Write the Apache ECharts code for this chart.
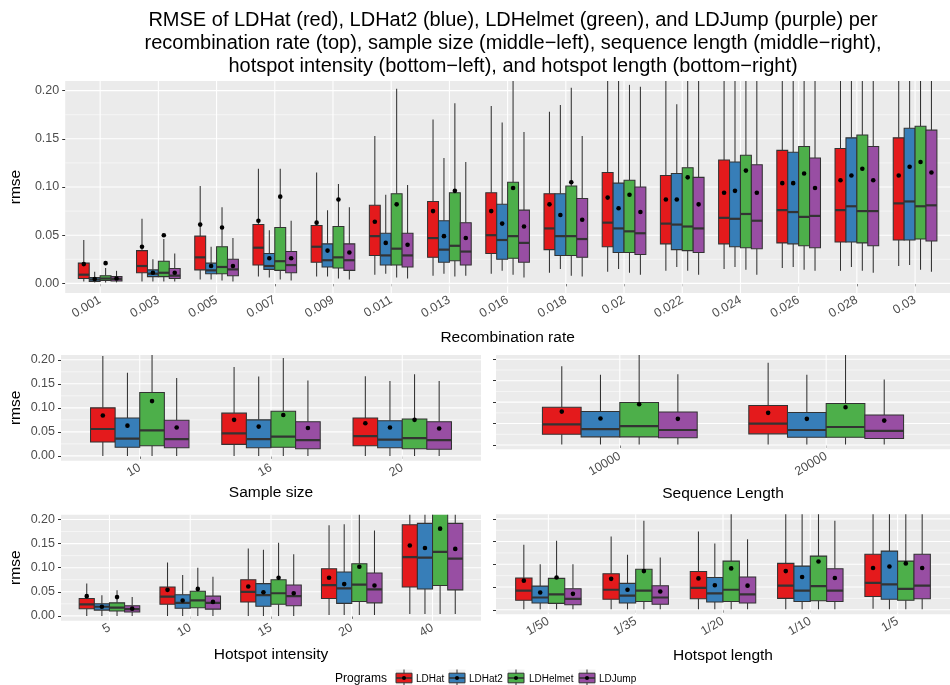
<!DOCTYPE html>
<html>
<head>
<meta charset="utf-8">
<script src="https://cdn.jsdelivr.net/npm/echarts@6/dist/echarts.min.js"></script>
<style>
  html, body { margin: 0; padding: 0; background: #ffffff; }
  #chart { width: 950px; height: 685px; }
</style>
</head>
<body>
<div id="chart"></div>
<script>
// Programs compared and their Set1 colours
const programs = ['LDHat', 'LDHat2', 'LDHelmet', 'LDJump'];
const programColors = ['#E41A1C', '#377EB8', '#4DAF4A', '#984EA3'];

// Category labels of each panel
const recombRates = ['0.001', '0.003', '0.005', '0.007', '0.009', '0.011', '0.013', '0.016',
  '0.018', '0.02', '0.022', '0.024', '0.026', '0.028', '0.03'];
const sampleSizes = ['10', '16', '20'];
const sequenceLengths = ['10000', '20000'];
const hotspotIntensities = ['5', '10', '15', '20', '40'];
const hotspotLengths = ['1/50', '1/35', '1/20', '1/10', '1/5'];

// y-axis breaks
const yMajor = [0, 0.05, 0.10, 0.15, 0.20];
const yMinor = [0.025, 0.075, 0.125, 0.175];

// Box statistics per category: [lower whisker, Q1, median, Q3, upper whisker, mean]
const recombLDHat = [
  [0.002, 0.005, 0.009, 0.021, 0.045, 0.020],
  [0.002, 0.011, 0.018, 0.034, 0.067, 0.038],
  [0.004, 0.014, 0.027, 0.049, 0.101, 0.061],
  [0.007, 0.019, 0.037, 0.061, 0.119, 0.065],
  [0.007, 0.022, 0.038, 0.060, 0.115, 0.063],
  [0.009, 0.029, 0.049, 0.081, 0.153, 0.064],
  [0.008, 0.027, 0.047, 0.085, 0.170, 0.075],
  [0.010, 0.031, 0.050, 0.094, 0.184, 0.075],
  [0.011, 0.035, 0.057, 0.093, 0.178, 0.082],
  [0.012, 0.038, 0.063, 0.115, 0.235, 0.089],
  [0.013, 0.041, 0.062, 0.112, 0.232, 0.087],
  [0.015, 0.041, 0.068, 0.128, 0.260, 0.094],
  [0.016, 0.042, 0.076, 0.138, 0.280, 0.104],
  [0.013, 0.043, 0.076, 0.140, 0.290, 0.107],
  [0.018, 0.045, 0.083, 0.151, 0.310, 0.112]
];
const recombLDHat2 = [
  [0.001, 0.002, 0.004, 0.006, 0.012, 0.0045],
  [0.002, 0.007, 0.010, 0.014, 0.025, 0.011],
  [0.004, 0.010, 0.0135, 0.021, 0.038, 0.018],
  [0.006, 0.0145, 0.018, 0.031, 0.055, 0.026],
  [0.007, 0.017, 0.024, 0.041, 0.076, 0.034],
  [0.010, 0.019, 0.029, 0.052, 0.092, 0.042],
  [0.010, 0.022, 0.035, 0.065, 0.130, 0.049],
  [0.013, 0.025, 0.045, 0.082, 0.167, 0.062],
  [0.015, 0.029, 0.049, 0.093, 0.185, 0.071],
  [0.015, 0.032, 0.057, 0.104, 0.225, 0.078],
  [0.017, 0.035, 0.061, 0.114, 0.186, 0.087],
  [0.017, 0.038, 0.067, 0.126, 0.250, 0.096],
  [0.017, 0.041, 0.074, 0.136, 0.270, 0.104],
  [0.017, 0.043, 0.080, 0.151, 0.290, 0.112],
  [0.019, 0.045, 0.085, 0.161, 0.320, 0.121]
];
const recombLDHelmet = [
  [0.001, 0.003, 0.005, 0.008, 0.016, 0.021],
  [0.002, 0.007, 0.011, 0.023, 0.046, 0.050],
  [0.003, 0.010, 0.017, 0.038, 0.079, 0.058],
  [0.004, 0.0135, 0.023, 0.058, 0.119, 0.090],
  [0.005, 0.016, 0.027, 0.059, 0.103, 0.087],
  [0.006, 0.019, 0.036, 0.093, 0.202, 0.082],
  [0.007, 0.0235, 0.039, 0.094, 0.187, 0.096],
  [0.009, 0.026, 0.049, 0.105, 0.245, 0.099],
  [0.008, 0.029, 0.049, 0.101, 0.203, 0.105],
  [0.011, 0.032, 0.054, 0.107, 0.206, 0.092],
  [0.013, 0.034, 0.059, 0.120, 0.240, 0.110],
  [0.014, 0.037, 0.072, 0.133, 0.270, 0.117],
  [0.014, 0.039, 0.069, 0.142, 0.290, 0.114],
  [0.013, 0.042, 0.075, 0.154, 0.300, 0.119],
  [0.014, 0.046, 0.080, 0.163, 0.330, 0.126]
];
const recombLDJump = [
  [0.001, 0.0025, 0.0045, 0.007, 0.013, 0.005],
  [0.002, 0.005, 0.008, 0.0155, 0.031, 0.011],
  [0.002, 0.008, 0.0145, 0.025, 0.047, 0.018],
  [0.003, 0.011, 0.019, 0.033, 0.065, 0.026],
  [0.004, 0.0135, 0.024, 0.041, 0.079, 0.032],
  [0.005, 0.017, 0.029, 0.052, 0.102, 0.040],
  [0.008, 0.019, 0.033, 0.063, 0.126, 0.047],
  [0.006, 0.022, 0.042, 0.076, 0.157, 0.059],
  [0.007, 0.027, 0.046, 0.088, 0.153, 0.066],
  [0.009, 0.030, 0.052, 0.100, 0.204, 0.074],
  [0.009, 0.032, 0.057, 0.110, 0.230, 0.082],
  [0.009, 0.036, 0.065, 0.123, 0.250, 0.094],
  [0.013, 0.037, 0.070, 0.130, 0.270, 0.099],
  [0.011, 0.039, 0.075, 0.142, 0.280, 0.107],
  [0.012, 0.044, 0.081, 0.159, 0.300, 0.115]
];

const sampleLDHat = [
  [0.000, 0.029, 0.056, 0.100, 0.208, 0.084],
  [0.000, 0.024, 0.047, 0.089, 0.185, 0.075],
  [0.000, 0.021, 0.041, 0.079, 0.166, 0.068]
];
const sampleLDHat2 = [
  [0.000, 0.018, 0.036, 0.079, 0.173, 0.063],
  [0.000, 0.017, 0.035, 0.075, 0.165, 0.061],
  [0.000, 0.017, 0.034, 0.073, 0.156, 0.059]
];
const sampleLDHelmet = [
  [0.000, 0.021, 0.053, 0.132, 0.250, 0.114],
  [0.000, 0.018, 0.040, 0.093, 0.204, 0.085],
  [0.000, 0.015, 0.037, 0.077, 0.170, 0.075]
];
const sampleLDJump = [
  [0.000, 0.017, 0.035, 0.074, 0.162, 0.059],
  [0.000, 0.015, 0.033, 0.071, 0.157, 0.058],
  [0.000, 0.014, 0.033, 0.071, 0.156, 0.057]
];

const seqLDHat = [
  [0.001, 0.025, 0.048, 0.088, 0.184, 0.078],
  [0.001, 0.026, 0.050, 0.092, 0.192, 0.075]
];
const seqLDHat2 = [
  [0.001, 0.019, 0.037, 0.078, 0.164, 0.062],
  [0.001, 0.018, 0.035, 0.076, 0.164, 0.061]
];
const seqLDHelmet = [
  [0.001, 0.019, 0.044, 0.099, 0.250, 0.095],
  [0.001, 0.018, 0.042, 0.097, 0.250, 0.088]
];
const seqLDJump = [
  [0.001, 0.017, 0.035, 0.077, 0.165, 0.061],
  [0.001, 0.015, 0.033, 0.070, 0.153, 0.057]
];

const intensityLDHat = [
  [0.000, 0.015, 0.024, 0.036, 0.067, 0.041],
  [0.000, 0.024, 0.040, 0.060, 0.111, 0.054],
  [0.000, 0.029, 0.050, 0.075, 0.140, 0.061],
  [0.002, 0.036, 0.064, 0.098, 0.188, 0.079],
  [0.004, 0.060, 0.122, 0.189, 0.300, 0.146]
];
const intensityLDHat2 = [
  [0.000, 0.012, 0.019, 0.025, 0.043, 0.019],
  [0.000, 0.016, 0.027, 0.044, 0.085, 0.032],
  [0.000, 0.020, 0.043, 0.067, 0.137, 0.049],
  [0.002, 0.026, 0.057, 0.091, 0.190, 0.066],
  [0.004, 0.056, 0.121, 0.192, 0.300, 0.141]
];
const intensityLDHelmet = [
  [0.000, 0.010, 0.017, 0.027, 0.053, 0.039],
  [0.000, 0.017, 0.032, 0.051, 0.100, 0.056],
  [0.000, 0.024, 0.047, 0.075, 0.152, 0.079],
  [0.002, 0.030, 0.065, 0.108, 0.250, 0.102],
  [0.004, 0.063, 0.133, 0.240, 0.350, 0.181]
];
const intensityLDJump = [
  [0.000, 0.008, 0.014, 0.021, 0.039, 0.015],
  [0.000, 0.014, 0.027, 0.041, 0.081, 0.029],
  [0.000, 0.021, 0.041, 0.064, 0.128, 0.047],
  [0.002, 0.027, 0.055, 0.089, 0.177, 0.063],
  [0.004, 0.054, 0.119, 0.192, 0.300, 0.139]
];

const lengthLDHat = [
  [0.001, 0.021, 0.042, 0.070, 0.143, 0.064],
  [0.001, 0.023, 0.044, 0.079, 0.161, 0.068],
  [0.001, 0.024, 0.048, 0.084, 0.172, 0.069],
  [0.001, 0.025, 0.053, 0.102, 0.250, 0.085],
  [0.002, 0.029, 0.059, 0.122, 0.280, 0.092]
];
const lengthLDHat2 = [
  [0.001, 0.015, 0.027, 0.052, 0.100, 0.038],
  [0.001, 0.015, 0.031, 0.058, 0.121, 0.044],
  [0.001, 0.017, 0.036, 0.071, 0.146, 0.054],
  [0.001, 0.018, 0.042, 0.096, 0.240, 0.072],
  [0.001, 0.023, 0.056, 0.129, 0.280, 0.095]
];
const lengthLDHelmet = [
  [0.001, 0.014, 0.034, 0.069, 0.152, 0.071],
  [0.001, 0.018, 0.042, 0.089, 0.196, 0.085],
  [0.001, 0.018, 0.044, 0.107, 0.250, 0.091],
  [0.001, 0.020, 0.052, 0.118, 0.270, 0.106],
  [0.001, 0.021, 0.046, 0.107, 0.280, 0.102]
];
const lengthLDJump = [
  [0.001, 0.011, 0.024, 0.046, 0.100, 0.035],
  [0.001, 0.012, 0.027, 0.053, 0.115, 0.040],
  [0.001, 0.015, 0.034, 0.072, 0.155, 0.053],
  [0.001, 0.018, 0.042, 0.090, 0.196, 0.070],
  [0.001, 0.024, 0.053, 0.122, 0.260, 0.092]
];

const titleLines = [
  'RMSE of LDHat (red), LDHat2 (blue), LDHelmet (green), and LDJump (purple) per',
  'recombination rate (top), sample size (middle\u2212left), sequence length (middle\u2212right),',
  'hotspot intensity (bottom\u2212left), and hotspot length (bottom\u2212right)'
];

// ---- layout of the five panels ----
const FONT = '"Liberation Sans", Arial, Helvetica, sans-serif';
const panels = [
  { cats: recombRates, xTitle: 'Recombination rate',
    stats: [recombLDHat, recombLDHat2, recombLDHelmet, recombLDJump],
    grid: { left: 61, top: 81, width: 901, height: 212 }, yLabels: true, nameGap: 37 },
  { cats: sampleSizes, xTitle: 'Sample size',
    stats: [sampleLDHat, sampleLDHat2, sampleLDHelmet, sampleLDJump],
    grid: { left: 61, top: 355, width: 420, height: 105.7 }, yLabels: true, nameGap: 24 },
  { cats: sequenceLengths, xTitle: 'Sequence Length',
    stats: [seqLDHat, seqLDHat2, seqLDHelmet, seqLDJump],
    grid: { left: 496, top: 355, width: 466, height: 94.3 }, yLabels: false, nameGap: 36 },
  { cats: hotspotIntensities, xTitle: 'Hotspot intensity',
    stats: [intensityLDHat, intensityLDHat2, intensityLDHelmet, intensityLDJump],
    grid: { left: 61, top: 514.7, width: 420, height: 106 }, yLabels: true, nameGap: 26 },
  { cats: hotspotLengths, xTitle: 'Hotspot length',
    stats: [lengthLDHat, lengthLDHat2, lengthLDHelmet, lengthLDJump],
    grid: { left: 496, top: 514.3, width: 466, height: 100 }, yLabels: false, nameGap: 33 }
];

// dodged boxes: 4 boxes filling 0.75 of each category slot
const DODGE = 0.75;
const BOX_W = DODGE / programs.length;
const offsetOf = k => -DODGE / 2 + BOX_W * (k + 0.5);

const INK = '#333333';
const TICK_GRAY = '#333333';
const LABEL_GRAY = '#4D4D4D';

function boxRenderer(offset, color) {
  return function (params, api) {
    const x = api.value(0) + offset;
    const cx = api.coord([x, 0])[0];
    const half = api.size([BOX_W, 0])[0] / 2;
    const yLo = api.coord([x, api.value(1)])[1];
    const yQ1 = api.coord([x, api.value(2)])[1];
    const yMed = api.coord([x, api.value(3)])[1];
    const yQ3 = api.coord([x, api.value(4)])[1];
    const yHi = api.coord([x, api.value(5)])[1];
    const yMean = api.coord([x, api.value(6)])[1];
    return {
      type: 'group',
      children: [
        { type: 'line', shape: { x1: cx, y1: yHi, x2: cx, y2: yQ3 },
          style: { stroke: INK, lineWidth: 1.05 } },
        { type: 'line', shape: { x1: cx, y1: yQ1, x2: cx, y2: yLo },
          style: { stroke: INK, lineWidth: 1.05 } },
        { type: 'rect', shape: { x: cx - half, y: yQ3, width: half * 2, height: yQ1 - yQ3 },
          style: { fill: color, stroke: INK, lineWidth: 1.05 } },
        { type: 'line', shape: { x1: cx - half, y1: yMed, x2: cx + half, y2: yMed },
          style: { stroke: INK, lineWidth: 2.2 } },
        { type: 'circle', shape: { cx: cx, cy: yMean, r: 2.3 },
          style: { fill: '#000000' } }
      ]
    };
  };
}

function hLineRenderer(width) {
  return function (params, api) {
    const cs = params.coordSys;
    const y = api.coord([1, api.value(0)])[1];
    return { type: 'line', shape: { x1: cs.x, y1: y, x2: cs.x + cs.width, y2: y },
      style: { stroke: '#FFFFFF', lineWidth: width } };
  };
}
function vLineRenderer(params, api) {
  const cs = params.coordSys;
  const x = api.coord([api.value(0), 0])[0];
  return { type: 'line', shape: { x1: x, y1: cs.y, x2: x, y2: cs.y + cs.height },
    style: { stroke: '#FFFFFF', lineWidth: 1.07 } };
}

const grids = [], xAxes = [], yAxes = [], series = [];
panels.forEach((p, gi) => {
  const positions = p.cats.map((c, i) => i + 1);
  grids.push(Object.assign({ show: true, backgroundColor: '#EBEBEB', borderWidth: 0 }, p.grid));
  xAxes.push({
    type: 'value', gridIndex: gi, min: 0.4, max: p.cats.length + 0.6,
    name: p.xTitle, nameLocation: 'middle', nameGap: p.nameGap,
    nameTextStyle: { fontFamily: FONT, fontSize: 15.5, color: '#000000' },
    axisLine: { show: false },
    axisTick: { show: true, length: 3, customValues: positions, lineStyle: { color: TICK_GRAY, width: 1 } },
    axisLabel: { show: true, customValues: positions, rotate: 30, margin: 6,
      fontFamily: FONT, fontSize: 12.5, color: LABEL_GRAY,
      formatter: v => p.cats[Math.round(v) - 1] },
    splitLine: { show: false }
  });
  yAxes.push({
    type: 'value', gridIndex: gi, min: -0.01, max: 0.21,
    name: p.yLabels ? 'rmse' : '', nameLocation: 'middle', nameGap: 37,
    nameTextStyle: { fontFamily: FONT, fontSize: 15.5, color: '#000000' },
    axisLine: { show: false },
    axisTick: { show: true, length: 3, customValues: yMajor, lineStyle: { color: TICK_GRAY, width: 1 } },
    axisLabel: { show: p.yLabels, customValues: yMajor, margin: 6,
      fontFamily: FONT, fontSize: 12.5, color: LABEL_GRAY,
      formatter: v => v.toFixed(2) },
    splitLine: { show: false }
  });
  // panel grid lines
  series.push({ type: 'custom', xAxisIndex: gi, yAxisIndex: gi, z: 1, silent: true,
    data: yMinor.map(v => [v]), encode: { y: 0 }, renderItem: hLineRenderer(0.55) });
  series.push({ type: 'custom', xAxisIndex: gi, yAxisIndex: gi, z: 1, silent: true,
    data: yMajor.map(v => [v]), encode: { y: 0 }, renderItem: hLineRenderer(1.07) });
  series.push({ type: 'custom', xAxisIndex: gi, yAxisIndex: gi, z: 1, silent: true,
    data: positions.map(v => [v]), encode: { x: 0 }, renderItem: vLineRenderer });
  // one box series per program
  programs.forEach((name, k) => {
    series.push({
      type: 'custom', name: name, xAxisIndex: gi, yAxisIndex: gi, z: 3, clip: true, silent: true,
      data: p.stats[k].map((row, i) => [i + 1].concat(row)),
      encode: { x: 0, y: [1, 2, 3, 4, 5, 6] },
      renderItem: boxRenderer(offsetOf(k), programColors[k])
    });
  });
});

// legend drawn as boxplot glyphs
const legendKeyX = [396, 449, 508, 579];
const legendTextX = [416, 469, 529, 599];
const legendY = 678;
const legendChildren = [
  { type: 'text', x: 335, y: legendY + 1,
    style: { text: 'Programs', fontFamily: FONT, fontSize: 12, fill: '#000000', verticalAlign: 'middle' } }
];
programs.forEach((name, k) => {
  const x0 = legendKeyX[k];
  const cx = x0 + 8;
  legendChildren.push(
    { type: 'rect', shape: { x: x0 - 0.5, y: legendY - 8.5, width: 17, height: 17 }, style: { fill: '#F2F2F2' } },
    { type: 'line', shape: { x1: cx, y1: legendY - 8.5, x2: cx, y2: legendY + 8.5 }, style: { stroke: INK, lineWidth: 1 } },
    { type: 'rect', shape: { x: x0, y: legendY - 4.8, width: 16, height: 9.6 },
      style: { fill: programColors[k], stroke: INK, lineWidth: 1 } },
    { type: 'line', shape: { x1: x0, y1: legendY, x2: x0 + 16, y2: legendY }, style: { stroke: INK, lineWidth: 1.6 } },
    { type: 'circle', shape: { cx: cx, cy: legendY, r: 2 }, style: { fill: '#000000' } },
    { type: 'text', x: legendTextX[k], y: legendY + 1,
      style: { text: name, fontFamily: FONT, fontSize: 10, fill: '#000000', verticalAlign: 'middle' } }
  );
});

const chart = echarts.init(document.getElementById('chart'), null, { renderer: 'canvas' });
chart.setOption({
  backgroundColor: '#FFFFFF',
  animation: false,
  grid: grids,
  xAxis: xAxes,
  yAxis: yAxes,
  series: series,
  graphic: [
    { type: 'text', x: 513, y: 9,
      style: { text: titleLines.join('\n'), fontFamily: FONT, fontSize: 20, lineHeight: 23,
        fill: '#000000', align: 'center', verticalAlign: 'top' } },
    { type: 'group', children: legendChildren }
  ]
});
</script>
</body>
</html>
